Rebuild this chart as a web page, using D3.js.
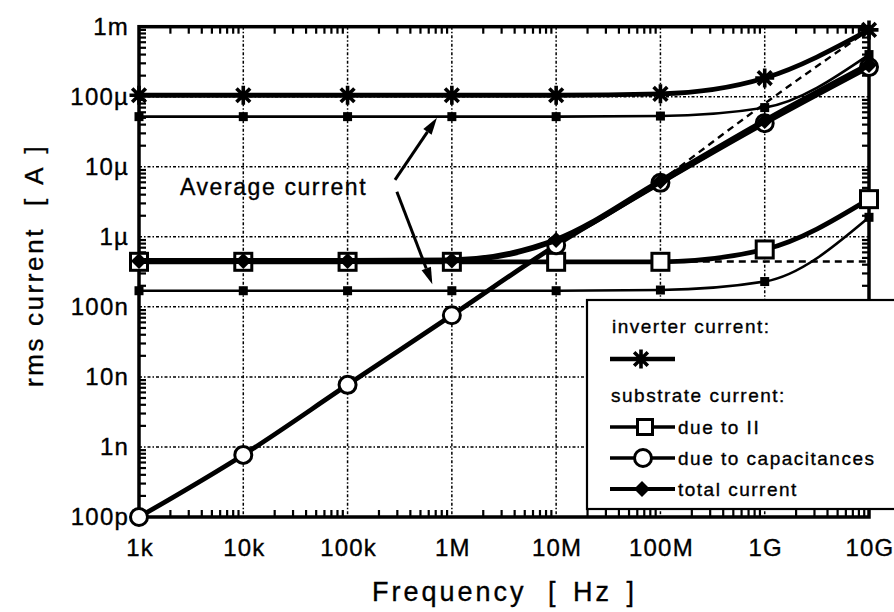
<!DOCTYPE html>
<html>
<head>
<meta charset="utf-8">
<script src="https://cdn.jsdelivr.net/npm/d3@7"></script>
<style>
  body { margin: 0; background: #fff; }
  svg { display: block; }
  text { font-family: "Liberation Sans", Arial, Helvetica, sans-serif; fill: #000; stroke: #000; stroke-width: 0.35; }
</style>
</head>
<body>
<svg id="chart" width="894" height="612"></svg>
<script>
// ---- data -------------------------------------------------------------
const frequencies  = [1e3, 1e4, 1e5, 1e6, 1e7, 1e8, 1e9, 1e10];
const xTickLabels  = ["1k", "10k", "100k", "1M", "10M", "100M", "1G", "10G"];
const yTickValues  = [1e-3, 1e-4, 1e-5, 1e-6, 1e-7, 1e-8, 1e-9, 1e-10];
const yTickLabels  = ["1m", "100µ", "10µ", "1µ", "100n", "10n", "1n", "100p"];

// rms currents [A]
const inverterRms     = [1.05e-4, 1.05e-4, 1.05e-4, 1.05e-4, 1.05e-4, 1.1e-4, 1.85e-4, 9.0e-4];
const substrateII     = [4.4e-7, 4.4e-7, 4.4e-7, 4.4e-7, 4.4e-7, 4.4e-7, 6.6e-7, 3.45e-6];
const substrateCap    = [1.0e-10, 7.7e-10, 7.7e-9, 7.6e-8, 7.6e-7, 5.9e-6, 4.2e-5, 2.65e-4];
const substrateTotal  = [4.5e-7, 4.5e-7, 4.5e-7, 4.6e-7, 9.0e-7, 6.2e-6, 4.5e-5, 2.85e-4];
// average currents [A]
const inverterAvg     = [5.2e-5, 5.2e-5, 5.2e-5, 5.2e-5, 5.2e-5, 5.3e-5, 7.0e-5, 4.0e-4];
const substrateIIAvg  = [1.7e-7, 1.7e-7, 1.7e-7, 1.7e-7, 1.7e-7, 1.74e-7, 2.3e-7, 1.9e-6];
// dashed reference lines
const refSlopeFreq    = [1e8, 1e9, 1e10];
const refSlopeValue   = [6.2e-6, 8.0e-5, 9.0e-4];
const refFlatFreq     = [1.5e8, 1e10];
const refFlatValue    = [4.45e-7, 4.45e-7];

// ---- scales -----------------------------------------------------------
const svg = d3.select("#chart");
const x = d3.scaleLog().domain([1e3, 1e10]).range([139, 869]);
const y = d3.scaleLog().domain([1e-10, 1e-3]).range([517, 26.7]);
const [x0, x1] = x.range();
const [y0, y1] = y.range();

const pts = (xs, ys) => xs.map((f, i) => [f, ys[i]]);
const line = d3.line().x(d => x(d[0])).y(d => y(d[1])).curve(d3.curveMonotoneX);

// ---- grid -------------------------------------------------------------
const grid = svg.append("g").attr("stroke", "#000").attr("stroke-width", 1.5)
  .attr("stroke-dasharray", "3,2,1.5,2").attr("fill", "none");
frequencies.slice(1, -1).forEach(f => {
  grid.append("line").attr("x1", x(f)).attr("x2", x(f)).attr("y1", y1).attr("y2", y0);
});
yTickValues.slice(1, -1).forEach(v => {
  grid.append("line").attr("x1", x0).attr("x2", x1).attr("y1", y(v)).attr("y2", y(v));
});

// ---- minor ticks (inward) ---------------------------------------------
const ticks = svg.append("g").attr("stroke", "#000").attr("stroke-width", 2.2);
for (let e = 3; e < 10; e++) {
  for (let k = 2; k <= 9; k++) {
    const px = x(k * Math.pow(10, e));
    ticks.append("line").attr("x1", px).attr("x2", px).attr("y1", y0).attr("y2", y0 - 7);
    ticks.append("line").attr("x1", px).attr("x2", px).attr("y1", y1).attr("y2", y1 + 7);
  }
}
for (let e = -10; e < -3; e++) {
  for (let k = 2; k <= 9; k++) {
    const py = y(k * Math.pow(10, e));
    ticks.append("line").attr("x1", x0).attr("x2", x0 + 7).attr("y1", py).attr("y2", py);
    ticks.append("line").attr("x1", x1).attr("x2", x1 - 7).attr("y1", py).attr("y2", py);
  }
}

// ---- frame ------------------------------------------------------------
svg.append("rect").attr("x", x0).attr("y", y1).attr("width", x1 - x0).attr("height", y0 - y1)
  .attr("fill", "none").attr("stroke", "#000").attr("stroke-width", 3.5);

// ---- marker shapes ----------------------------------------------------
function drawStar(g, cx, cy) {
  const r = 9.5, d = r * 0.72;
  g.append("path")
    .attr("d", `M${cx - r},${cy}L${cx + r},${cy}M${cx},${cy - r}L${cx},${cy + r}` +
               `M${cx - d},${cy - d}L${cx + d},${cy + d}M${cx - d},${cy + d}L${cx + d},${cy - d}`)
    .attr("stroke", "#000").attr("stroke-width", 3.6).attr("fill", "none");
  g.append("circle").attr("cx", cx).attr("cy", cy).attr("r", 4.5).attr("fill", "#000");
}
function drawSquare(g, cx, cy, s) {
  g.append("rect").attr("x", cx - s / 2).attr("y", cy - s / 2).attr("width", s).attr("height", s)
    .attr("fill", "#fff").attr("stroke", "#000").attr("stroke-width", 3);
}
function drawSmallSquare(g, cx, cy) {
  g.append("rect").attr("x", cx - 4.5).attr("y", cy - 4.5).attr("width", 9).attr("height", 9)
    .attr("fill", "#000");
}
function drawCircle(g, cx, cy) {
  g.append("circle").attr("cx", cx).attr("cy", cy).attr("r", 8.5)
    .attr("fill", "#fff").attr("stroke", "#000").attr("stroke-width", 3);
}
function drawDiamond(g, cx, cy) {
  const r = 8;
  g.append("path").attr("d", `M${cx},${cy - r}L${cx + r},${cy}L${cx},${cy + r}L${cx - r},${cy}Z`)
    .attr("fill", "#000");
}

const plot = svg.append("g");
function series(xs, ys, width, dash, marker) {
  const data = pts(xs, ys);
  plot.append("path").attr("d", line(data)).attr("fill", "none").attr("stroke", "#000")
    .attr("stroke-width", width).attr("stroke-dasharray", dash || null)
    .attr("stroke-linejoin", "round");
  if (marker) data.forEach(d => marker(plot, x(d[0]), y(d[1])));
}

// dashed reference lines
series(refSlopeFreq, refSlopeValue, 2.4, "7,5", null);
series(refFlatFreq, refFlatValue, 2.4, "7,5", null);
// average currents (thin)
series(frequencies, inverterAvg, 2.6, null, drawSmallSquare);
series(frequencies, substrateIIAvg, 2.6, null, drawSmallSquare);
// rms currents (thick)
series(frequencies, inverterRms, 4.8, null, drawStar);
series(frequencies, substrateII, 4.8, null, (g, cx, cy) => drawSquare(g, cx, cy, 17));
series(frequencies, substrateCap, 4.8, null, drawCircle);
series(frequencies, substrateTotal, 6, null, drawDiamond);

// ---- "Average current" annotation -------------------------------------
const note = svg.append("g");
note.append("text").attr("x", x(2.47e3)).attr("y", y(4.0e-6))
  .attr("font-size", 23).attr("letter-spacing", 1.6).text("Average current");
function arrow(fromF, fromV, toF, toV) {
  const ax = x(fromF), ay = y(fromV), bx = x(toF), by = y(toV);
  const len = Math.hypot(bx - ax, by - ay), ux = (bx - ax) / len, uy = (by - ay) / len;
  const hl = 17, hw = 5;
  const baseX = bx - ux * hl, baseY = by - uy * hl;
  note.append("line").attr("x1", ax).attr("y1", ay).attr("x2", baseX).attr("y2", baseY)
    .attr("stroke", "#000").attr("stroke-width", 3);
  note.append("path")
    .attr("d", `M${bx},${by}L${baseX - uy * hw},${baseY + ux * hw}L${baseX + uy * hw},${baseY - ux * hw}Z`)
    .attr("fill", "#000");
}
arrow(2.85e5, 6.5e-6, 7.2e5, 5.0e-5);
arrow(2.97e5, 4.4e-6, 6.5e5, 2.1e-7);

// ---- tick labels ------------------------------------------------------
svg.append("g").selectAll("text").data(frequencies).join("text")
  .attr("x", d => x(d) + 1).attr("y", 556).attr("text-anchor", "middle")
  .attr("font-size", 24).attr("letter-spacing", 1.2)
  .text((d, i) => xTickLabels[i]);
svg.append("g").selectAll("text").data(yTickValues).join("text")
  .attr("x", 129).attr("y", d => y(d) + 8).attr("text-anchor", "end")
  .attr("font-size", 24).attr("letter-spacing", 1.2)
  .text((d, i) => yTickLabels[i]);

// ---- axis titles ------------------------------------------------------
svg.append("text").attr("x", 372).attr("y", 601).attr("font-size", 27).attr("letter-spacing", 3)
  .text("Frequency");
svg.append("text").attr("x", 548).attr("y", 601).attr("font-size", 27).attr("letter-spacing", 3)
  .attr("word-spacing", 4).text("[ Hz ]");
svg.append("text").attr("transform", "translate(43,387) rotate(-90)")
  .attr("font-size", 26).attr("letter-spacing", 2.6).text("rms current");
svg.append("text").attr("transform", "translate(43,206) rotate(-90)")
  .attr("font-size", 26).attr("letter-spacing", 2.6).attr("word-spacing", 3).text("[ A ]");

// ---- legend -----------------------------------------------------------
const lg = svg.append("g");
lg.append("rect").attr("x", 587).attr("y", 300).attr("width", 330).attr("height", 209)
  .attr("fill", "#fff").attr("stroke", "#000").attr("stroke-width", 2.2);
const lgText = (tx, ty, s) => lg.append("text").attr("x", tx).attr("y", ty)
  .attr("font-size", 19).attr("letter-spacing", 1.5).text(s);
const lgLine = (ly, w) => lg.append("line").attr("x1", 610).attr("x2", 675)
  .attr("y1", ly).attr("y2", ly).attr("stroke", "#000").attr("stroke-width", w);

lgText(612, 333, "inverter current:");
lgLine(359, 4.5); drawStar(lg, 641, 359);
lgText(611, 402, "substrate current:");
lgLine(427, 3.5); drawSquare(lg, 645, 427, 15); lgText(678, 434, "due to II");
lgLine(458, 3.5); drawCircle(lg, 643, 458); lgText(678, 465, "due to capacitances");
lgLine(489, 4); drawDiamond(lg, 642, 489); lgText(678, 496, "total current");
</script>
</body>
</html>
